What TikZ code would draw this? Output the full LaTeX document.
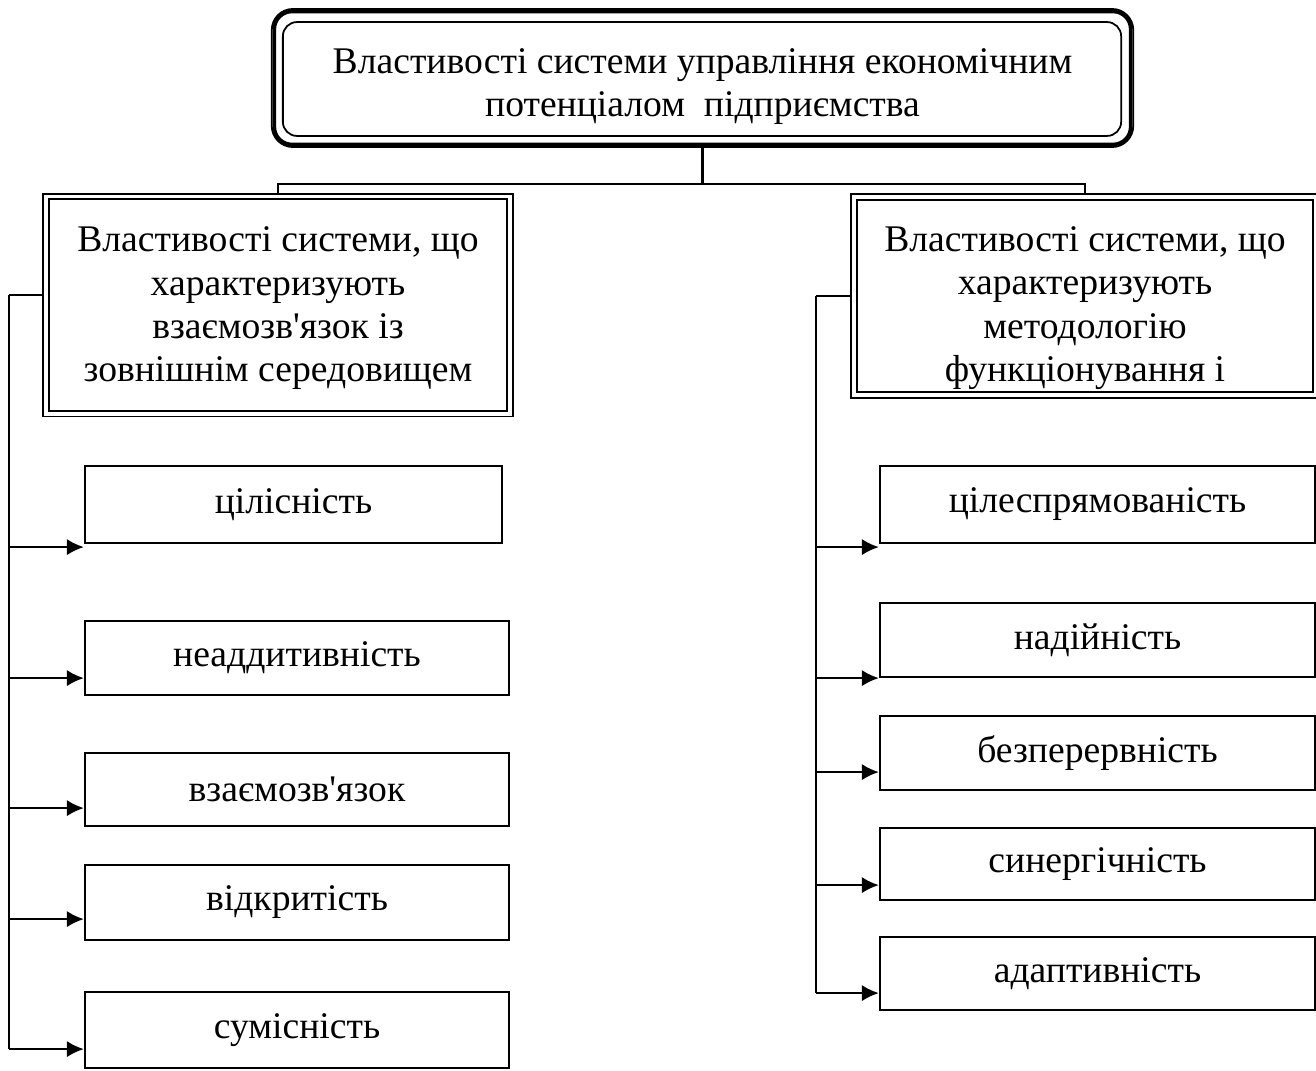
\documentclass[tikz,border=0pt]{standalone}
\usepackage{fontspec}
\setmainfont{Liberation Serif}
\usetikzlibrary{arrows.meta}

\begin{document}
\begin{tikzpicture}[>={Latex[length=4.8pt,width=4.6pt]}, x=0.01cm, y=-0.01cm,
    font=\fontsize{10.7}{12.3}\selectfont,
    headbox/.style={draw, double, double distance=1.1pt, line width=0.55pt, outer sep=1pt, inner sep=0pt, align=center},
    propbox/.style={draw, line width=0.6pt, inner sep=0pt},
    link/.style={line width=0.6pt}]
    \useasboundingbox (0,0) rectangle (1316,1070);

    \node [draw, line width=0.5pt, rounded corners=6pt, minimum width=8.61cm, minimum height=1.38cm, inner sep=0pt, align=center] (top) at (702.5,78)
        {\rule{0pt}{12pt}Властивості системи управління економічним\\потенціалом\ \ підприємства};
    \draw [line width=1pt, rounded corners=5pt] ([shift={(3.5,3.5)}]top.north west) rectangle ([shift={(-3.5,-3.5)}]top.south east);
    \draw [line width=0.5pt, rounded corners=4pt] ([shift={(12,14)}]top.north west) rectangle ([shift={(-13,-12)}]top.south east);

    \node [headbox, minimum width=4.63cm, minimum height=2.17cm] (lefthead) at (278,305)
        {\rule{0pt}{9pt}Властивості системи, що\\характеризують\\взаємозв\textquotesingle язок із\\зовнішнім середовищем};
    \node [headbox, minimum width=4.62cm, minimum height=1.98cm] (righthead) at (1085,296)
        {\rule{0pt}{14pt}Властивості системи, що\\характеризують\\методологію\\функціонування і};

    \draw [link] (top.south) -- ++(0,36) coordinate (split);
    \draw [link] (lefthead.north) |- (split) -| (righthead.north);

    \node [propbox, minimum width=4.17cm, minimum height=0.77cm] (l1) at (293.5,504.5) {цілісність};
    \node [propbox, minimum width=4.24cm, minimum height=0.74cm] (l2) at (297,658) {неаддитивність};
    \node [propbox, minimum width=4.24cm, minimum height=0.73cm] (l3) at (297,789.5) {взаємозв\textquotesingle язок};
    \node [propbox, minimum width=4.24cm, minimum height=0.75cm] (l4) at (297,902.5) {відкритість};
    \node [propbox, minimum width=4.24cm, minimum height=0.76cm] (l5) at (297,1030) {сумісність};

    \node [propbox, minimum width=4.35cm, minimum height=0.77cm] (r1) at (1097.5,504.5) {цілеспрямованість};
    \node [propbox, minimum width=4.35cm, minimum height=0.74cm] (r2) at (1097.5,640) {надійність};
    \node [propbox, minimum width=4.35cm, minimum height=0.74cm] (r3) at (1097.5,753) {безперервність};
    \node [propbox, minimum width=4.35cm, minimum height=0.72cm] (r4) at (1097.5,864) {синергічність};
    \node [propbox, minimum width=4.35cm, minimum height=0.73cm] (r5) at (1097.5,973.5) {адаптивність};

    \draw [link] ([yshift=2.8pt]lefthead.west) -- ++(-34,0) coordinate (lbus);
    \draw [link] (righthead.west) -- ++(-34.5,0) coordinate (rbus);

    \foreach \i/\off in {1/3,2/-18,3/-19,4/-22,5/-20}{
        \coordinate (la\i) at ([shift={(0,\off)}]l\i.south west);
        \draw [link,->] (lbus |- la\i) -- (la\i);
    }
    \foreach \i/\off in {1/3,2/0,3/-19,4/-16,5/-18}{
        \coordinate (ra\i) at ([shift={(0,\off)}]r\i.south west);
        \draw [link,->] (rbus |- ra\i) -- (ra\i);
    }
    \draw [link] (lbus) -- (lbus |- la5);
    \draw [link] (rbus) -- (rbus |- ra5);
\end{tikzpicture}
\end{document}
